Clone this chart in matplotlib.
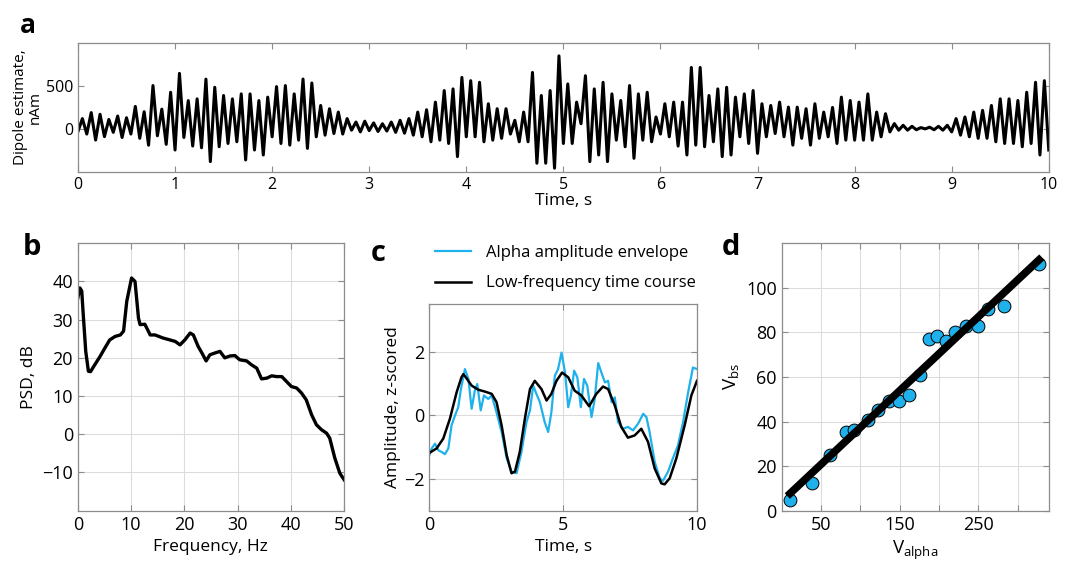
import numpy as np
import matplotlib
matplotlib.use('Agg')
import matplotlib.pyplot as plt

plt.rcParams['font.family'] = ['Open Sans', 'DejaVu Sans']
plt.rcParams['axes.edgecolor'] = '#8c8c8c'
plt.rcParams['xtick.color'] = '#8c8c8c'
plt.rcParams['ytick.color'] = '#8c8c8c'
plt.rcParams['xtick.labelcolor'] = 'black'
plt.rcParams['ytick.labelcolor'] = 'black'
plt.rcParams['mathtext.default'] = 'regular'

# --- a: dipole estimate (nAm), alternating troughs/peaks, 22 per second
dipole = [
    -30, 120, -60, 190, -130, 170, -90, 110, -40, 150, -100, 130, -60, 262, -110, 200, -190, 505, -80, 230, -180, 427,
    -246, 647, -100, 330, -200, 350, -220, 580, -381, 485, -208, 389, -170, 350, -150, 408, -362, 408, -246, 330, -304, 370,
    -92, 493, -170, 505, -189, 408, -131, 581, -227, 535, -92, 273, -73, 235, -54, 196, -60, 120, -15, 80, -35, 90,
    -20, 70, -30, 60, -25, 80, -40, 100, -50, 120, -73, 196, -92, 223, -150, 312, -131, 447, -170, 466, -323, 600,
    -92, 562, -92, 543, -150, 293, -131, 235, -110, 235, -60, 100, -150, 196, -150, 658, -400, 389, -400, 447, -458, 851,
    -170, 524, -170, 312, 60, 620, -381, 466, -304, 543, -381, 408, -131, 331, -208, 505, -343, 408, -131, 427, -150, 139,
    -60, 293, -92, 312, -200, 312, -304, 716, -189, 716, -208, 389, -150, 466, -323, 485, -304, 370, -92, 408, -170, 447,
    -285, 293, -92, 273, -54, 312, -92, 254, -189, 254, -110, 235, -189, 293, -110, 196, -92, 250, -170, 370, -131, 331,
    -131, 312, -131, 408, -131, 196, -92, 177, -35, 62, -15, 42, -15, 30, -10, 15, 0, 20, -10, 30, -15, 42,
    -35, 120, -73, 139, -92, 196, -110, 216, -110, 273, -150, 350, -170, 350, -170, 331, -208, 427, -170, 543, -304, 562,
    -246,
]
t_sig = np.linspace(0, 10, len(dipole))

# --- b: PSD
freq = [0, 0.4, 0.75, 1, 1.5, 2, 2.4, 3.2, 4.2, 5.1, 6, 7, 8, 8.6, 9.2, 10.1, 10.75, 11.4, 11.7, 12.6,
        13.6, 14.5, 16, 17.3, 18.3, 19.2, 20.1, 21.1, 21.7, 22.6, 23.3, 24.1, 24.8, 25.8, 26.7, 27.6,
        28.6, 29.5, 30.4, 31.7, 32.6, 33.6, 34.5, 35.5, 36.4, 37.3, 38.3, 39.2, 40.1, 41.1, 42, 42.9,
        43.9, 44.8, 45.75, 46.7, 47.3, 48.25, 49.2, 50]
psd = [35.6, 38.3, 37.5, 32, 21.7, 16.5, 16.4, 18.2, 20.4, 22.6, 24.7, 25.6, 26, 27, 34.8, 40.9, 40, 30.4, 28.7, 28.8,
       26, 26, 25.2, 24.7, 24.3, 23.4, 24.7, 26.5, 26, 23, 21.3, 19.2, 20.8, 21.3, 21.7, 20,
       20.5, 20.6, 19.5, 19.2, 18.2, 17.3, 14.5, 14.7, 15.3, 15.1, 15.1, 13.8, 12.5, 12.1, 10.8, 9,
       5.1, 2.5, 1.2, 0.3, -1, -6.2, -10.2, -11.9]

# --- c: z-scored time courses
t_low = [0, 0.27, 0.52, 0.77, 1.02, 1.2, 1.27, 1.39, 1.58, 1.83, 2.08, 2.33, 2.51, 2.7, 2.89, 3.07, 3.2, 3.38,
         3.57, 3.76, 3.94, 4.19, 4.38, 4.56, 4.75, 4.96, 5.19, 5.43, 5.68, 5.97, 6.24, 6.49, 6.68, 6.93,
         7.17, 7.42, 7.67, 7.92, 8.17, 8.42, 8.67, 8.79, 8.98, 9.23, 9.54, 9.79, 10]
low_freq = [-1.18, -1.04, -0.73, -0.1, 0.73, 1.2, 1.3, 1.17, 0.94, 0.81, 0.75, 0.68, 0.42, -0.31, -1.25, -1.82, -1.77, -1.15,
            -0.1, 0.83, 1.09, 0.83, 0.47, 0.68, 1.09, 1.35, 1.2, 0.78, 0.63, 0.29, 0.68, 0.91, 0.83, 0.31,
            -0.36, -0.7, -0.63, -0.42, -0.83, -1.67, -2.14, -2.17, -1.98, -1.35, -0.31, 0.63, 1.09]
t_alpha = [0, 0.09, 0.21, 0.34, 0.46, 0.58, 0.71, 0.83, 0.96, 1.08, 1.18, 1.33, 1.46, 1.58, 1.7, 1.79, 1.92, 2.04,
           2.2, 2.33, 2.51, 2.7, 2.89, 3.07, 3.26, 3.44, 3.63, 3.76, 3.88, 4.0, 4.13, 4.31, 4.44, 4.56, 4.69,
           4.81, 4.94, 5.07, 5.19, 5.29, 5.41, 5.53, 5.66, 5.78, 5.9, 6.06, 6.18, 6.31, 6.43, 6.56, 6.68,
           6.81, 6.93, 7.05, 7.24, 7.42, 7.61, 7.8, 7.99, 8.11, 8.23, 8.42, 8.61, 8.73, 8.92, 9.1, 9.29,
           9.48, 9.67, 9.85, 10]
alpha_env = [-1.25, -1.04, -0.89, -1.1, -1.15, -1.22, -1.04, -0.31, 0, 0.26, 0.83, 1.46, 1.15, 0.21, 0.78, 0.99, 0.16, 0.63,
             0.52, 0.63, 0.1, -0.52, -1.35, -1.77, -1.82, -1.15, -0.21, 0.16, 0.94, 0.68, 0.42, -0.21, -0.52, 0.1, 1.25,
             1.46, 1.98, 1.35, 0.26, 0.63, 1.41, 1.2, 0.26, 1.15, 0.94, -0.05, 0.52, 1.65, 1.35, 1.04, 1.09,
             0.42, 0.57, -0.21, -0.42, -0.36, -0.47, -0.26, 0.05, -0.05, -0.52, -1.46, -1.98, -2.06, -1.77, -1.35, -0.94,
             -0.21, 0.73, 1.51, 1.46]

# --- d: scatter
v_alpha = [10.7, 38.6, 61.8, 81.7, 92.3, 109.2, 121.9, 136.7, 148.5, 161.2, 176, 186.6, 197.1, 208.6,
           220.4, 234, 250, 262.7, 282.6, 327]
v_bs = [4.8, 12.6, 25, 35.2, 36, 40.8, 45.1, 49, 49, 51.7, 61, 77.1, 78.3, 76,
        80.1, 82.8, 82.8, 90.3, 92, 110.5]

blue = '#1fb1ec'

fig = plt.figure(figsize=(10.68, 5.67), dpi=100, facecolor='white')

def style(ax, size):
    ax.tick_params(direction='in', top=True, right=True, length=4, labelsize=size, width=0.8)
    for s in ax.spines.values():
        s.set_linewidth(0.9)

# panel a
axa = fig.add_axes([0.073, 0.697, 0.909, 0.227])
axa.plot(t_sig, dipole, color='black', lw=2.2)
axa.set_xlim(0, 10)
axa.set_ylim(-500, 1000)
axa.set_xticks(range(11))
axa.set_yticks([0, 500])
style(axa, 11.5)
axa.set_xlabel('Time, s', fontsize=12.5, labelpad=0)
axa.set_ylabel('Dipole estimate,\nnAm', fontsize=11, labelpad=2, linespacing=1.0)
fig.text(0.019, 0.955, 'a', fontsize=19, fontweight='bold', va='center')

# panel b
axb = fig.add_axes([0.0728, 0.0993, 0.2494, 0.4717])
axb.plot(freq, psd, color='black', lw=2.4)
axb.set_xlim(0, 50)
axb.set_ylim(-20, 50)
axb.set_xticks(range(0, 51, 10))
axb.set_yticks(range(-10, 41, 10))
axb.grid(True, color='#dcdcdc', lw=0.8)
style(axb, 13)
axb.set_xlabel('Frequency, Hz', fontsize=12.5)
axb.set_ylabel('PSD, dB', fontsize=12.5)
fig.text(0.021, 0.563, 'b', fontsize=21, fontweight='bold', va='center')

# panel c
axc = fig.add_axes([0.402, 0.0993, 0.2506, 0.364])
axc.plot(t_alpha, alpha_env, color=blue, lw=1.6, label='Alpha amplitude envelope')
axc.plot(t_low, low_freq, color='black', lw=1.8, label='Low-frequency time course')
axc.set_xlim(0, 10)
axc.set_ylim(-3, 3.5)
axc.set_xticks([0, 5, 10])
axc.set_yticks([-2, 0, 2])
axc.grid(True, color='#dcdcdc', lw=0.8)
style(axc, 13)
axc.set_xlabel('Time, s', fontsize=12.5)
axc.set_ylabel('Amplitude, z-scored', fontsize=12.5, labelpad=2)
axc.legend(loc='lower left', bbox_to_anchor=(-0.005, 1.03), frameon=False, fontsize=12,
           handlelength=2.2, handletextpad=0.9, labelspacing=0.85, borderaxespad=0)
fig.text(0.347, 0.553, 'c', fontsize=21, fontweight='bold', va='center')

# panel d
axd = fig.add_axes([0.7319, 0.0993, 0.2506, 0.4717])
coef = np.polyfit(v_alpha, v_bs, 1)
xf = np.array([min(v_alpha), max(v_alpha)])
axd.scatter(v_alpha, v_bs, s=85, color=blue, edgecolor='black', linewidth=0.7, zorder=3)
axd.plot(xf, np.polyval(coef, xf), color='black', lw=5.5, zorder=4)
axd.set_xlim(0, 340)
axd.set_ylim(0, 120)
axd.set_xticks(range(50, 301, 50))
axd.set_xticklabels(['50', '', '150', '', '250', ''])
axd.set_yticks(range(0, 101, 20))
axd.grid(True, color='#dcdcdc', lw=0.8)
style(axd, 13)
axd.set_xlabel('$V_{alpha}$', fontsize=13.5)
axd.set_ylabel('$V_{bs}$', fontsize=13.5)
fig.text(0.676, 0.563, 'd', fontsize=21, fontweight='bold', va='center')

fig.savefig('out.png', dpi=100, facecolor='white')
